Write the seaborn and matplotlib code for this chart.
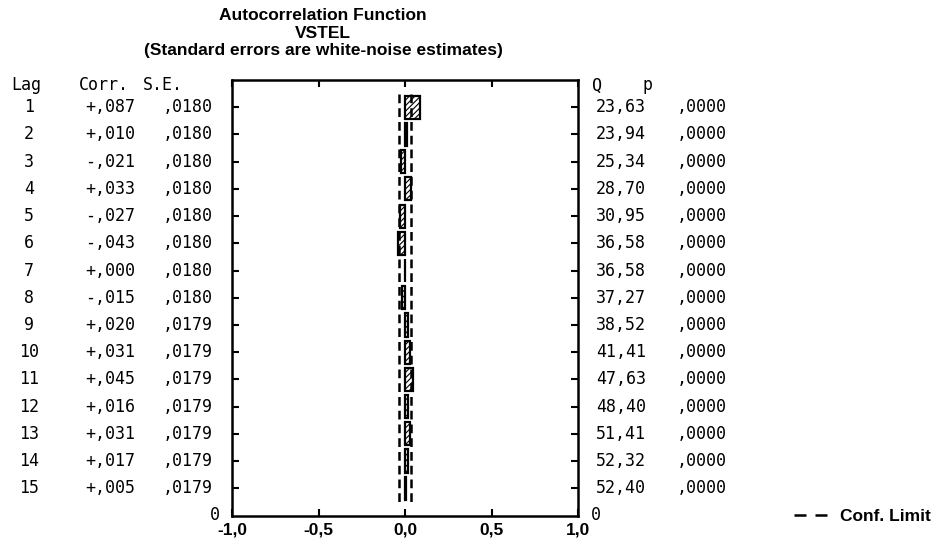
import numpy as np
import pandas as pd
import matplotlib
matplotlib.use("Agg")
import matplotlib.pyplot as plt
import matplotlib.transforms as mtransforms
from matplotlib.lines import Line2D
import seaborn as sns

# Autocorrelation results for VSTEL
lags = [1, 2, 3, 4, 5, 6, 7, 8, 9, 10, 11, 12, 13, 14, 15]
corr = [0.087, 0.010, -0.021, 0.033, -0.027, -0.043, 0.000, -0.015,
        0.020, 0.031, 0.045, 0.016, 0.031, 0.017, 0.005]
std_err = [0.0180, 0.0180, 0.0180, 0.0180, 0.0180, 0.0180, 0.0180, 0.0180,
           0.0179, 0.0179, 0.0179, 0.0179, 0.0179, 0.0179, 0.0179]
q_stat = [23.63, 23.94, 25.34, 28.70, 30.95, 36.58, 36.58, 37.27,
          38.52, 41.41, 47.63, 48.40, 51.41, 52.32, 52.40]
p_val = [0.0] * 15
x_ticks = [-1.0, -0.5, 0.0, 0.5, 1.0]
x_tick_labels = ["-1,0", "-0,5", "0,0", "0,5", "1,0"]


def fmt_corr(v):
    sign = "-" if v < 0 else "+"
    return sign + f"{abs(v):.3f}"[1:].replace(".", ",")


def fmt_se(v):
    return f"{v:.4f}"[1:].replace(".", ",")


def fmt_q(v):
    return f"{v:.2f}".replace(".", ",")


sns.set_style("white")
plt.rcParams["font.family"] = ["Liberation Sans", "DejaVu Sans"]
plt.rcParams["text.color"] = "black"
plt.rcParams["xtick.color"] = "black"
plt.rcParams["ytick.color"] = "black"
plt.rcParams["hatch.linewidth"] = 0.8
plt.rcParams["hatch.color"] = "#555555"

W, H = 937, 549
fig = plt.figure(figsize=(W / 100, H / 100), dpi=100)
ax = fig.add_axes([232 / W, 1 - 515.5 / H, (578 - 232) / W, (515.5 - 80) / H])

n = len(lags)
df = pd.DataFrame({"lag": lags, "corr": corr, "se": std_err})
df["row"] = n + 1 - df["lag"]  # lag 1 at the top

sns.barplot(data=df, x="corr", y="row", orient="y", native_scale=True,
            width=0.85, color="white", edgecolor="black", linewidth=1.6,
            ax=ax)
for patch in ax.patches:
    patch.set_hatch("//////")

# confidence limits (+/- 2 standard errors), drawn as steps
rows = df["row"].to_numpy(dtype=float)
lim = 2 * df["se"].to_numpy()
y_step = np.concatenate([[rows[0] + 0.5], rows, [rows[-1] - 0.5]])
l_step = np.concatenate([[lim[0]], lim, [lim[-1]]])
dash = (0, (3.5, 2))
for sgn in (1, -1):
    ax.plot(sgn * l_step, y_step, color="black", lw=1.8,
            linestyle=dash, drawstyle="steps-mid")

ax.set_xlim(-1, 1)
ax.set_ylim(0, n + 1)
ax.set_xticks(x_ticks)
ax.set_xticklabels(x_tick_labels, fontsize=12.5, fontweight="bold")
ax.set_yticks(list(range(1, n + 1)))
ax.set_yticklabels([])
ax.set_xlabel("")
ax.set_ylabel("")
ax.tick_params(axis="both", direction="in", length=5, width=1.5,
               top=True, right=True, bottom=True, left=True, pad=5)
for s in ax.spines.values():
    s.set_linewidth(1.8)
    s.set_color("black")

# numeric columns beside the plot
trans = mtransforms.blended_transform_factory(fig.transFigure, ax.transData)
mono = dict(family=["DejaVu Sans Mono"], fontsize=12, color="black",
            va="center", transform=trans)
hdr_y = n + 1 - 0.2
for txt, xc in [("Lag", 26), ("Corr.", 104), ("S.E.", 163), ("Q", 597), ("p", 648)]:
    ax.text(xc / W, hdr_y, txt, ha="center", **mono)
for i in range(n):
    r = rows[i]
    ax.text(29 / W, r, str(lags[i]), ha="center", **mono)
    ax.text(110 / W, r, fmt_corr(corr[i]), ha="center", **mono)
    ax.text(188 / W, r, fmt_se(std_err[i]), ha="center", **mono)
    ax.text(621 / W, r, fmt_q(q_stat[i]), ha="center", **mono)
    ax.text(702 / W, r, fmt_se(p_val[i]), ha="center", **mono)
ax.text(215 / W, 0, "0", ha="center", **mono)
ax.text(596 / W, 0, "0", ha="center", **mono)

# titles
for txt, yc in [("Autocorrelation Function", 16), ("VSTEL", 34),
                ("(Standard errors are white-noise estimates)", 51)]:
    fig.text(323 / W, 1 - yc / H, txt, ha="center", va="center",
             fontsize=12.5, fontweight="bold")

handle = Line2D([], [], color="black", lw=1.8, linestyle=(0, (4.8, 3.6)))
fig.legend([handle], ["Conf. Limit"], loc="center left",
           bbox_to_anchor=(778 / W, 1 - 516 / H), frameon=False,
           handlelength=2.0, handletextpad=0.7,
           prop=dict(size=12.5, weight="bold"))

fig.savefig("out.png", dpi=100)
